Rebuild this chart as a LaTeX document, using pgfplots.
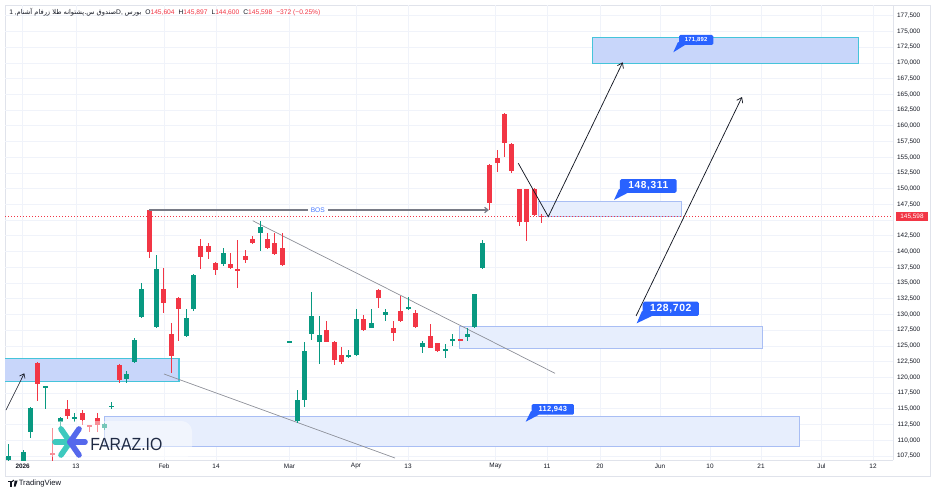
\documentclass[border=0pt]{standalone}
\usepackage{fontspec}
\setmainfont{Liberation Sans}
\newfontfamily\arabicfont[Script=Arabic]{DejaVu Sans}
\TeXXeTstate=1
\usepackage{graphicx}
\usepackage{pgfplots}
\usepackage{pgfplotstable}
\pgfplotsset{compat=1.18}
\usetikzlibrary{arrows.meta}

\definecolor{upc}{HTML}{089981}
\definecolor{dnc}{HTML}{F23645}
\definecolor{gridc}{HTML}{F0F3FA}
\definecolor{sepc}{HTML}{E0E3EB}
\definecolor{txtc}{HTML}{131722}
\definecolor{zoneA}{HTML}{C8D6FA}
\definecolor{zoneAb}{HTML}{45C4DA}
\definecolor{zoneB}{HTML}{E7EEFD}
\definecolor{zoneBb}{HTML}{A9BEF4}
\definecolor{tvblue}{HTML}{2962FF}
\definecolor{trendc}{HTML}{8A8D96}
\definecolor{bosc}{HTML}{787B86}
\definecolor{logoteal}{HTML}{3DC9BE}
\definecolor{logoblue}{HTML}{5568EC}
\definecolor{navy}{HTML}{1F2A44}

\pgfplotstableread{
x o h l c
0 106900 109350 106500 107500
2 106700 108500 106500 108176
3 111356 115300 110306 115172
5 118350 118600 114917 118550
7 112946 113700 111626 113582
9 113500 114329 112946 113650
13 111896 112700 111700 112532
14 115300 116126 114917 115500
16 119735 121055 119099 120609
17 122390 126254 122300 125936
18 129641 135047 129386 133997
20 128051 139451 127900 137225
24 126572 130865 126400 129386
25 130817 136400 130600 136271
29 137972 140564 137700 139817
34 142901 144905 140135 143951
38 125550 125800 125500 125750
39 113105 117986 112691 116396
40 116396 125666 115331 124235
41 126890 133520 125936 129800
42 125666 129800 122120 126731
46 123180 124300 123100 123551
47 123551 130865 123400 129227
49 127892 130865 127800 128687
51 129911 130865 129005 130340
54 130817 132821 130700 131231
56 124871 125777 123917 125411
59 124235 125300 123122 124457
60 125777 126842 124982 126047
62 126461 127796 125700 126842
63 127955 133300 127900 133202
64 137432 141836 137300 141407
}\upT

\pgfplotstableread{
x o h l c
4 122327 122400 116237 118940
6 108049 111896 106700 107700
8 114918 116396 113327 113900
10 114377 114800 112420 113216
11 112400 112500 111350 112200
12 113500 114300 111300 112400
15 121961 122050 119099 119576
19 146606 146700 138926 139976
21 133997 137336 130277 131867
22 126890 128591 120641 123440
23 132662 132800 125825 130865
26 140882 141947 137177 139181
27 140882 141407 138767 139880
28 138227 138400 136271 137066
30 137972 139721 137177 137431
31 137150 141836 134156 137000
32 139292 140246 138131 138656
33 141995 142400 141200 141311
35 141995 142949 140400 140516
36 141407 142949 139500 139610
37 140612 142901 137700 137861
43 127526 129005 125600 125666
44 125666 125800 121961 122756
45 123551 124871 122100 122390
48 129227 129911 127400 127526
50 133886 134000 130976 132566
52 127892 128957 125777 127097
53 130595 132980 128800 129005
55 130181 130700 127900 128051
57 126572 128432 124600 124712
58 125411 125500 124100 124187
61 126047 126100 125700 125777
65 153761 153900 146606 147671
66 154826 156146 152696 154031
67 161822 162000 154985 157211
68 157100 157200 152441 152807
69 149897 150000 144062 144746
70 149897 150000 141725 144650
71 149897 150100 145600 145811
72 145604 145897 144600 145598
}\dnT

\begin{document}
\begin{tikzpicture}
\begin{scope}[x=0.75pt,y=-0.75pt]
\path[use as bounding box] (0,0) rectangle (936,492);
\fill[white] (0,0) rectangle (936,492);
\draw[sepc,line width=0.5pt] (5,5) rectangle (930,476);
\end{scope}

\begin{axis}[
  at={(3.75pt,-345pt)}, anchor=south west,
  scale only axis, width=666pt, height=341.25pt,
  xmin=-0.446, xmax=119.47, ymin=106856, ymax=179201,
  axis x line*=bottom, axis y line*=right,
  axis line style={draw=sepc, line width=0.5pt},
  major tick length=0pt,
  grid=major, grid style={draw=gridc, line width=0.5pt},
  ytick={107500,110000,112500,115000,117500,120000,122500,125000,127500,130000,132500,135000,137500,140000,142500,147500,150000,152500,155000,157500,160000,162500,165000,167500,170000,172500,175000,177500},
  extra y ticks={145000}, extra y tick labels={},
  extra y tick style={grid=major, grid style={draw=gridc, line width=0.5pt}, major tick length=0pt},
  scaled y ticks=false,
  /pgf/number format/fixed,
  /pgf/number format/precision=0,
  /pgf/number format/1000 sep={,},
  /pgf/number format/assume math mode=true,
  yticklabel style={anchor=east, xshift=24pt, text=txtc, font=\fontsize{4.8}{5.8}\selectfont},
  xtick={1.94,9.12,21.03,28.05,37.97,46.95,53.98,65.79,72.75,79.9,88.0,94.76,101.65,109.8,116.77},
  xticklabels={\textbf{2026},13,Feb,14,Mar,Apr,13,May,11,20,Jun,10,21,Jul,12},
  xticklabel style={anchor=center, yshift=-4.5pt, text=txtc, font=\fontsize{4.8}{5.8}\selectfont},
  clip=true,
]
% zones
\addplot[fill=zoneA, draw=zoneAb, line width=0.8pt, forget plot] coordinates {(-0.6,119306) (23.05,119306) (23.05,123026) (-0.6,123026)} -- cycle;
\addplot[fill=zoneB, draw=zoneBb, line width=0.7pt, forget plot] coordinates {(12.96,108971) (106.9,108971) (106.9,113772) (12.96,113772)} -- cycle;
\addplot[fill=zoneB, draw=zoneBb, line width=0.7pt, forget plot] coordinates {(60.9,124616) (101.88,124616) (101.88,128051) (60.9,128051)} -- cycle;
\addplot[fill=zoneB, draw=zoneBb, line width=0.7pt, forget plot] coordinates {(71.57,145541) (90.94,145541) (90.94,148037) (71.57,148037)} -- cycle;
\addplot[fill=zoneA, draw=zoneAb, line width=0.8pt, forget plot] coordinates {(78.87,169931) (114.79,169931) (114.79,174065) (78.87,174065)} -- cycle;
% trendlines
\addplot[trendc, line width=0.5pt, forget plot] coordinates {(33.0,144905) (73.83,120641)};
\addplot[trendc, line width=0.5pt, forget plot] coordinates {(21.03,120530) (52.22,107174)};
% price line
\addplot[dnc, line width=0.5pt, dash pattern=on 0.75pt off 1.5pt, forget plot] coordinates {(-0.446,145598) (119.47,145598)};
% candles: wicks
\addplot[draw=none, forget plot, error bars/.cd, y dir=both, y explicit, error mark=none, error bar style={draw=upc, line width=0.75pt}]
  table[x=x, y expr={(\thisrow{h}+\thisrow{l})/2}, y error expr={(\thisrow{h}-\thisrow{l})/2}] {\upT};
\addplot[draw=none, forget plot, error bars/.cd, y dir=both, y explicit, error mark=none, error bar style={draw=dnc, line width=0.75pt}]
  table[x=x, y expr={(\thisrow{h}+\thisrow{l})/2}, y error expr={(\thisrow{h}-\thisrow{l})/2}] {\dnT};
% candles: bodies
\addplot[draw=none, forget plot, error bars/.cd, y dir=both, y explicit, error mark=none, error bar style={draw=upc, line width=3.75pt}]
  table[x=x, y expr={(\thisrow{o}+\thisrow{c})/2}, y error expr={max(abs(\thisrow{o}-\thisrow{c})/2,80)}] {\upT};
\addplot[draw=none, forget plot, error bars/.cd, y dir=both, y explicit, error mark=none, error bar style={draw=dnc, line width=3.75pt}]
  table[x=x, y expr={(\thisrow{o}+\thisrow{c})/2}, y error expr={max(abs(\thisrow{o}-\thisrow{c})/2,80)}] {\dnT};
% BOS
\addplot[bosc, line width=0.9pt, -{Straight Barb[length=2.5pt,width=4pt]}, forget plot] coordinates {(19,146606) (64.9,146606)};
\node[fill=white, inner xsep=2pt, inner ysep=0.5pt, text=tvblue!85, font=\fontsize{5}{6}\selectfont] at (axis cs:41.8,146606) {BOS};
% arrows
\addplot[txtc, line width=0.45pt, -{Straight Barb[length=3pt,width=4.5pt]}, forget plot] coordinates {(-0.31,114806) (2.16,120641)};
\addplot[txtc, line width=0.55pt, -{Straight Barb[length=3.5pt,width=5pt]}, forget plot] coordinates {(68.87,154031) (72.92,145541) (82.97,170090)};
\addplot[txtc, line width=0.55pt, -{Straight Barb[length=3.5pt,width=5pt]}, forget plot] coordinates {(84.77,129752) (99.08,164573)};
\end{axis}

\begin{scope}[x=0.75pt,y=-0.75pt]
% price tag
\node[fill=dnc, text=white, inner sep=0pt, minimum width=24pt, minimum height=6.9pt, font=\fontsize{4.8}{5.8}\selectfont] at (912,216.4) {145,598};
% callouts
\fill[tvblue] (619,189) -- (628,192.7) -- (614,200) -- cycle;
\node[fill=tvblue, text=white, rounded corners=1.2pt, inner sep=0pt, minimum width=42.5pt, minimum height=10.3pt, font=\fontsize{7.6}{8}\selectfont\bfseries\addfontfeature{LetterSpace=6}] at (648.3,185.9) {148,311};
\fill[tvblue] (642,311) -- (652,316) -- (636.7,323.3) -- cycle;
\node[fill=tvblue, text=white, rounded corners=1.2pt, inner sep=0pt, minimum width=42.2pt, minimum height=10.7pt, font=\fontsize{7.8}{8}\selectfont\bfseries\addfontfeature{LetterSpace=6}] at (670.85,308.85) {128,702};
\fill[tvblue] (531,411) -- (539,414.7) -- (525.7,421.7) -- cycle;
\node[fill=tvblue, text=white, rounded corners=1pt, inner sep=0pt, minimum width=31.7pt, minimum height=8pt, font=\fontsize{5.6}{6}\selectfont\bfseries\addfontfeature{LetterSpace=4}] at (552.85,409.35) {112,943};
\fill[tvblue] (678,42) -- (685,45) -- (673.3,52.3) -- cycle;
\node[fill=tvblue, text=white, rounded corners=1pt, inner sep=0pt, minimum width=25.7pt, minimum height=7.5pt, font=\fontsize{4.4}{5}\selectfont\bfseries\addfontfeature{LetterSpace=4}] at (696.15,40) {171,892};
% logo
\fill[white, opacity=0.45, rounded corners=8pt] (48,421) rectangle (192,459);
\begin{scope}[line width=4.2pt, line cap=round]
\draw[logoteal] (70,442) -- (55,442);
\draw[logoteal] (70,442) -- (61,429);
\draw[logoteal] (70,442) -- (61,455);
\draw[logoblue] (70,442) -- (85,442);
\draw[logoblue] (70,442) -- (79,429);
\draw[logoblue] (70,442) -- (79,455);
\end{scope}
\node[anchor=west, inner sep=0pt, text=navy, font=\fontsize{13.2}{14}\selectfont] at (90,444.5) {\scalebox{0.9}[1]{FARAZ.IO}};
% header
\node[anchor=west, inner sep=0pt, text=txtc, font=\fontsize{5}{6}\selectfont] at (9,12.5)
  {1 ,{\arabicfont\beginR صندوق س.پشتوانه طلا زرفام آشنام\endR}D, {\arabicfont\beginR بورس\endR}\hspace{3pt}O\textcolor{dnc}{145,604}\hspace{3pt}H\textcolor{dnc}{145,897}\hspace{3pt}L\textcolor{dnc}{144,600}\hspace{3pt}C\textcolor{dnc}{145,598}\hspace{3pt}\textcolor{dnc}{−372 (−0.25\%)}};
% TradingView logo
\fill[txtc] (8,480.5) rectangle (12.5,482.3);
\fill[txtc] (10,480.5) rectangle (11.6,486.5);
\fill[txtc] (13.2,480.5) circle (0.9);
\fill[txtc] (14.6,480.5) -- (17.6,480.5) -- (15.6,486.5) -- (13.9,486.5) -- cycle;
\node[anchor=west, inner sep=0pt, text=txtc, font=\fontsize{5.8}{6}\selectfont] at (18.5,483.5) {TradingView};
\end{scope}
\end{tikzpicture}
\end{document}
